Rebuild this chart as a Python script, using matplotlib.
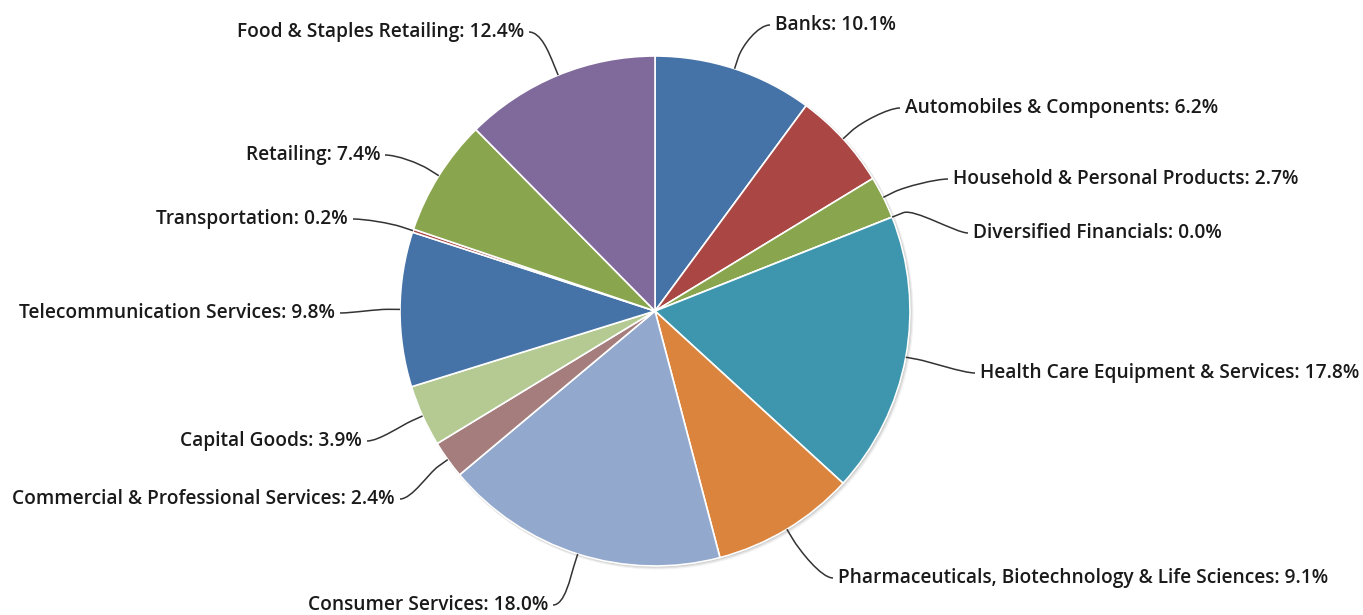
import numpy as np
import matplotlib
matplotlib.use("Agg")
import matplotlib.pyplot as plt
from matplotlib.path import Path
from matplotlib.patches import PathPatch, Circle

# ---- data ----
categories = ["Banks", "Automobiles & Components", "Household & Personal Products",
              "Diversified Financials", "Health Care Equipment & Services",
              "Pharmaceuticals, Biotechnology & Life Sciences", "Consumer Services",
              "Commercial & Professional Services", "Capital Goods",
              "Telecommunication Services", "Transportation", "Retailing",
              "Food & Staples Retailing"]
shares = [10.1, 6.2, 2.7, 0.0, 17.8, 9.1, 18.0, 2.4, 3.9, 9.8, 0.2, 7.4, 12.4]

palette = ['#4572A7', '#AA4643', '#89A54E', '#80699B', '#3D96AE', '#DB843D',
           '#92A8CD', '#A47D7C', '#B5CA92']

# ---- layout (pixel coordinates, y downwards) ----
W, H = 1363, 615
CX, CY, R = 655, 311, 255
# label anchor (end of connector) in pixels
label_pos = [(770, 25), (900, 108), (948, 179), (968, 233), (975, 373),
             (833, 578), (553, 605), (400, 499), (367, 441), (340, 313),
             (353, 219), (385, 155), (529, 32)]

FONT = 'Open Sans'
FS = 13.75

fig = plt.figure(figsize=(W / 100, H / 100), dpi=100)
ax = fig.add_axes([0, 0, 1, 1])
ax.set_xlim(0, W)
ax.set_ylim(0, H)
ax.set_aspect('equal')
ax.axis('off')

cy = H - CY
colors = [palette[i % len(palette)] for i in range(len(shares))]

# shadow
for k, a in [(3, 0.05), (2, 0.08), (1, 0.12)]:
    ax.add_patch(Circle((CX + k * 0.7, cy - k * 0.7), R + k * 0.5, color='black',
                        alpha=a, lw=0, zorder=1))

vals = [v if v > 0 else 1e-9 for v in shares]
wedges, _ = ax.pie(vals, colors=colors, startangle=90, counterclock=False,
                   center=(CX, cy), radius=R, normalize=True,
                   wedgeprops=dict(edgecolor='white', linewidth=1.2))
for w in wedges:
    w.set_zorder(2)
ax.set_xlim(0, W)
ax.set_ylim(0, H)

total = sum(shares)
cum = 0.0
for name, v, (lx, ly) in zip(categories, shares, label_pos):
    mid = (cum + v / 2) / total * 2 * np.pi
    cum += v
    sx, sy = CX + R * np.sin(mid), CY - R * np.cos(mid)
    bx, by = CX + (R + 12) * np.sin(mid), CY - (R + 12) * np.cos(mid)
    right = lx > CX
    # soft connector: label end -> curve -> break point -> edge
    p0 = (lx, ly)
    p1 = (lx - 12 if right else lx + 12, ly)
    p2 = (2 * bx - sx, 2 * by - sy)
    pts = [p0, p1, p2, (bx, by), (sx, sy)]
    codes = [Path.MOVETO, Path.CURVE4, Path.CURVE4, Path.CURVE4, Path.LINETO]
    verts = [(x, H - y) for x, y in pts]
    ax.add_patch(PathPatch(Path(verts, codes), fill=False, edgecolor='#333333',
                           lw=1.1, zorder=3))
    tx = lx + 5 if right else lx - 5
    ax.text(tx, H - ly, f"{name}: {v:.1f}%", ha='left' if right else 'right',
            va='center', fontsize=FS, family=FONT, weight='semibold',
            color='#1a1a1a', zorder=4)

fig.savefig('out.png', dpi=100)
